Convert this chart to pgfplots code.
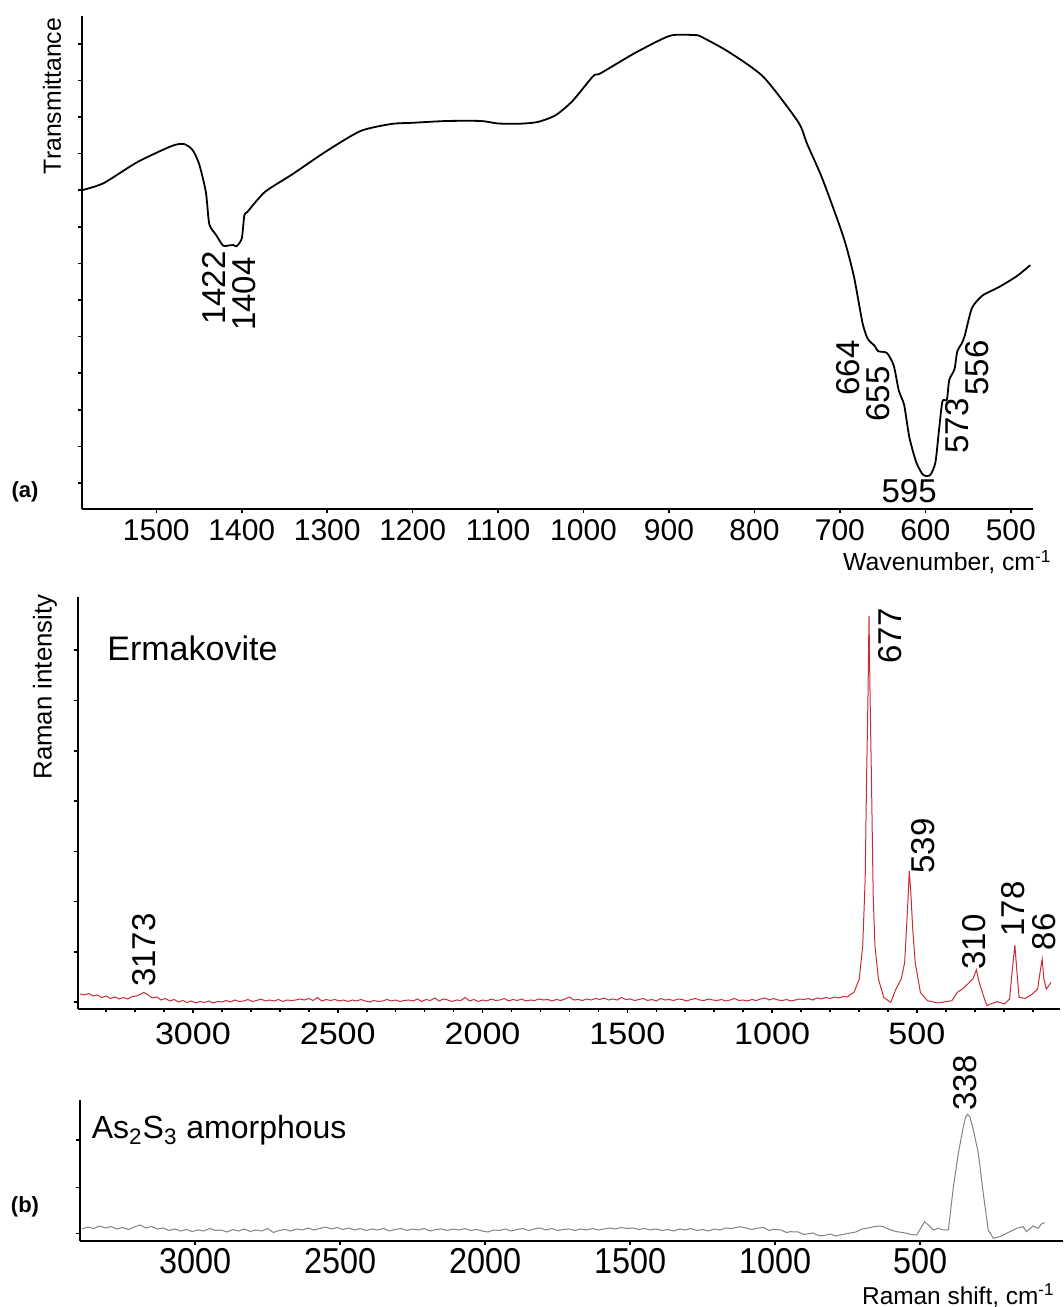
\documentclass[border=0pt]{standalone}
\usepackage{pgfplots}
\pgfplotsset{compat=1.18}
\usepackage{fontspec}
\setmainfont{Liberation Sans}
\newfontfamily\widefont[FakeStretch=1.1]{Liberation Sans}
\newfontfamily\narrowfont[FakeStretch=0.9]{Liberation Sans}
\definecolor{ramanred}{RGB}{200,45,55}
\definecolor{ramangray}{RGB}{130,130,130}

\pgfplotsset{
  spec/.style={
    scale only axis, clip=false,
    axis x line*=bottom, axis y line*=left,
    x dir=reverse,
    tick align=outside,
    major tick length=2pt, minor tick length=1.3pt,
    axis line style={line width=1.2pt},
    every tick/.style={black, line width=0.8pt},
    yticklabels={},
    /pgf/number format/1000 sep={},
    /pgf/number format/assume math mode=true,
  },
}
\tikzset{
  lbl/.style={rotate=90, anchor=east, inner sep=0pt, font=\fontsize{16.5}{16.5}\selectfont},
}

\begin{document}
\begin{tikzpicture}
\useasboundingbox (0,0) rectangle (532pt,653.5pt);

% (a) IR spectrum
\begin{axis}[spec,
  at={(41pt,399pt)}, anchor=south west,
  width=475.5pt, height=246.5pt,
  xmin=474, xmax=1587, ymin=0, ymax=493,
  xtick={500,600,...,1500},
  ytick={26,62.6,99.2,135.8,172.4,209,245.6,282.2,318.8,355.4,392,428.6,465.2},
  xticklabel style={font=\fontsize{15}{15}\selectfont, inner sep=0pt, yshift=-3pt},
]
\addplot[black, line width=0.9pt, smooth, tension=0.4] coordinates {
(1588,318.6) (1562,325.7) (1522,347) (1482,363) (1468,365) (1458,359.5) (1450,345.3)
(1442,316.8) (1438,284.8) (1430,274) (1422,263.4) (1416,263.4) (1410,264) (1406,262.7)
(1400,270.6) (1397,293.7) (1393.5,297) (1373,317) (1341,334.6) (1301,357.8) (1261,378)
(1225,385) (1200,386.2) (1160,388) (1120,388) (1100,385.5) (1074,385.3) (1053.7,387)
(1033,393.6) (1013,407.9) (988.6,433) (980.5,435.5) (939.8,456) (899,473.2) (870.7,473.9)
(862.6,472.4) (830,457) (789.4,432) (748.8,387) (738.6,365.6) (720.3,329.8) (696,272.4)
(683.7,233) (673.6,186.4) (667.5,170.3) (659.3,163.1) (655.3,157.8) (645,156) (637,143.4)
(631,118.3) (624.8,104) (618.7,71.7) (610.6,46.6) (602.4,34) (594.3,34) (588.2,46.6)
(584,79) (580,107.6) (574.8,109.4) (572,129) (565.9,139.8) (562.6,157.8) (557.7,165)
(553.7,173.9) (545.5,200.8) (533.3,213.3) (513,222.3) (492.7,233) (477.2,243.8)
};
\node[lbl] at (axis cs:1432,258) {1422};
\node[lbl] at (axis cs:1397,252) {1404};
\node[lbl] at (axis cs:690,169) {664};
\node[lbl] at (axis cs:655,143) {655};
\node[lbl] at (axis cs:563,111) {573};
\node[lbl] at (axis cs:539,169) {556};
\node[anchor=base, inner sep=0pt, font=\fontsize{16.5}{16.5}\selectfont] at (axis cs:619,6) {595};
\end{axis}

% (b) Raman, Ermakovite
\begin{axis}[spec,
  at={(39pt,149pt)}, anchor=south west,
  width=491pt, height=206pt,
  xmin=6, xmax=3397, ymin=0, ymax=412,
  xtick={500,1000,...,3000},
  minor xtick={100,200,...,3300},
  ytick={6.7,57,107.3,157.6,207.9,258.2,308.5,358.8},
  xticklabel style={font=\widefont\fontsize{15.5}{15.5}\selectfont, inner sep=0pt, yshift=-4.5pt},
]
\addplot[ramanred, line width=0.5pt] coordinates {
(3390,15) (3375,14) (3360,15.5) (3345,13) (3330,14) (3315,11.5) (3300,13) (3285,10.5)
(3270,12) (3255,10) (3240,11.5) (3225,10) (3210,12.5) (3195,13) (3180,15) (3170,16.5)
(3160,15) (3150,13) (3140,11) (3125,12) (3110,9) (3095,10.5) (3080,8) (3065,9.5)
(3050,7) (3035,8.5) (3020,6.5) (3005,8) (2990,6) (2975,7.5) (2960,6.5) (2945,8)
(2930,6) (2915,7.5) (2900,7) (2885,8.5) (2870,7) (2855,9) (2840,7.5) (2825,8)
(2810,9.5) (2795,7.5) (2780,8.5) (2765,10) (2750,8) (2735,9) (2720,8) (2705,9.5)
(2690,7.5) (2675,9) (2660,8.5) (2645,9) (2630,10) (2615,9) (2600,10.5) (2585,8.5)
(2570,11.5) (2555,8) (2540,9.5) (2525,8.5) (2510,9.5) (2495,8) (2480,9) (2465,7.5)
(2450,9) (2435,8) (2420,9.5) (2405,8) (2390,7) (2375,8.5) (2360,7.5) (2345,8)
(2330,9.5) (2315,8) (2300,9) (2285,7.5) (2270,8.5) (2255,9) (2240,8) (2225,10)
(2210,7.5) (2195,9.5) (2180,8.5) (2165,11) (2150,8) (2135,10) (2120,9) (2105,7.5)
(2090,9) (2075,8.5) (2060,11.5) (2045,8) (2030,9.5) (2015,7.5) (2000,9) (1985,8)
(1970,10) (1955,8.5) (1940,9) (1925,10.5) (1910,8) (1895,9.5) (1880,8.5) (1865,10)
(1850,8) (1835,9) (1820,8.5) (1805,10) (1790,9) (1775,9.5) (1760,8) (1745,9.5)
(1730,8.5) (1715,10) (1700,12) (1685,9) (1670,9.5) (1655,8.5) (1640,10) (1625,9)
(1610,10.5) (1595,9.5) (1580,11) (1565,9) (1550,10) (1535,9) (1520,11.5) (1505,9.5)
(1490,10) (1475,8.5) (1460,9.5) (1445,10.5) (1430,8.5) (1415,9.5) (1400,8) (1385,10.5)
(1370,9) (1355,9.5) (1340,8.5) (1325,10) (1310,9.5) (1295,8) (1280,9.5) (1265,10.5)
(1250,9) (1235,8.5) (1220,10) (1205,9) (1190,8.5) (1175,9.5) (1160,8) (1145,9)
(1130,10.5) (1115,8.5) (1100,9) (1085,8) (1070,9.5) (1055,8.5) (1040,10) (1025,11)
(1010,9) (995,10.5) (980,9) (965,8.5) (950,9.5) (935,8) (920,9) (905,10)
(890,9.5) (875,10.5) (860,9) (845,11) (830,10) (815,11.5) (800,10.5) (785,12)
(770,11) (755,12.5) (740,12) (730,14.5)
(717.4,16.6) (699.3,29.9) (687.2,63.2) (678.7,129.7) (673.9,229.5) (669,312.6)
(665.5,393.1) (661.8,312.6) (657,229.5) (651,113) (645,63.2) (632.9,29.9) (614.7,11.6)
(590.6,6.6) (572.5,19.9) (554.3,29.9) (542.3,46.6) (536.2,79.8) (530.2,113) (526.6,138)
(521.7,119.7) (514.5,79.8) (506,46.6) (488,16.6) (463.8,8.3) (427.5,6) (379.2,8.3)
(361,16.6) (343,19.9) (318.8,26.6) (306.8,29.9) (294.7,39.2) (285,26.6) (270.5,13.3)
(258.5,3.3) (246.4,5) (222.2,7.3) (198,5) (180,10) (171.5,36.6) (161.8,63.9) (154.6,36.6)
(147.3,11.6) (125.6,10.6) (101.4,15) (83.3,19.9) (74.9,36.6) (67.6,49.9) (61.6,29.9)
(53,19.9) (41,24.9) (37.4,26.6)
};
\node[lbl] at (axis cs:3167,96) {3173};
\node[lbl] at (axis cs:591,401) {677};
\node[lbl] at (axis cs:480,191) {539};
\node[lbl] at (axis cs:301,95) {310};
\node[lbl] at (axis cs:169,128) {178};
\node[lbl] at (axis cs:62,96) {86};
\end{axis}

% (b) Raman, amorphous As2S3
\begin{axis}[spec,
  at={(40pt,33pt)}, anchor=south west,
  width=491.5pt, height=70.5pt,
  xmin=7, xmax=3397, ymin=0, ymax=141,
  xtick={500,1000,...,3000},
  ytick={7.4,53.6,101.2},
  xticklabel style={font=\narrowfont\fontsize{18}{18}\selectfont, inner sep=0pt, yshift=-1.5pt},
]
\addplot[ramangray, line width=0.5pt] coordinates {
(3390,12) (3370,14) (3350,12.5) (3330,15) (3310,13) (3290,14.5) (3270,12) (3250,13.5)
(3230,11.5) (3210,14) (3190,16) (3170,13) (3150,14.5) (3130,12) (3110,13) (3090,10.5)
(3070,12) (3050,10) (3030,11.5) (3010,9.5) (2990,11) (2970,10) (2950,12.5) (2930,10.5)
(2910,11) (2890,9) (2870,11.5) (2850,10) (2830,12) (2810,9.5) (2790,11) (2770,10)
(2750,12.5) (2730,8.5) (2710,10.5) (2690,11.5) (2670,10) (2650,12) (2630,11) (2610,13)
(2590,11) (2570,12.5) (2550,14) (2530,12) (2510,13.5) (2490,11.5) (2470,13) (2450,11)
(2430,12.5) (2410,10.5) (2390,12) (2370,11) (2350,12.5) (2330,10) (2310,11.5) (2290,12.5)
(2270,10.5) (2250,12) (2230,11) (2210,12.5) (2190,10) (2170,11.5) (2150,12) (2130,10.5)
(2110,12) (2090,11) (2070,12.5) (2050,10.5) (2030,11.5) (2010,10) (1990,9) (1970,11)
(1950,10.5) (1930,12) (1910,10) (1890,11.5) (1870,12.5) (1850,10.5) (1830,12) (1810,13)
(1790,11) (1770,12.5) (1750,10.5) (1730,11.5) (1710,12) (1690,10.5) (1670,12) (1650,11)
(1630,12.5) (1610,11) (1590,12) (1570,13) (1550,12) (1530,13.5) (1510,12.5) (1490,13)
(1470,11.5) (1450,12.5) (1430,11) (1410,12) (1390,10.5) (1370,11.5) (1350,10) (1330,12)
(1310,11) (1290,12.5) (1270,10.5) (1250,11.5) (1230,10) (1210,12) (1190,11) (1170,13)
(1150,12.5) (1120,14.3) (1100,13) (1080,11.5) (1063,12.7) (1040,13.5) (1020,10.5)
(1005.7,11.7) (980,11) (960,8.5) (948,9.3) (920,9) (900,6.5) (890.8,7) (870,8) (850,5.5)
(833.3,5.3) (810,7) (790,5) (775.8,6) (750,7.5) (730,8.5) (718.4,9.3) (700,12)
(683.9,12.7) (670,13.5) (660.9,14.3) (640,15) (626.4,14.3) (610,12) (595,10.5)
(580.5,9.3) (560,8.5) (546,7.7) (530,6.5) (511.5,6) (494.3,14.3) (485,19.3) (471.3,16)
(454,11) (437,12.7) (419.5,11) (402.3,11) (385,54.3) (368,87.7) (353,111) (343,124)
(336,126.6) (328,124) (316,111) (299,87.7) (282,47.7) (265,11) (247,2.7) (224.7,4.3)
(201.7,7.7) (167,12.7) (144,14.3) (133,9.3) (110,15) (93,12.7) (81.6,17) (70,18.3)
};
\node[lbl] at (axis cs:345,186) {338};
\end{axis}

% texts
\node[rotate=90, inner sep=0pt, font=\fontsize{12.4}{12.4}\selectfont] at (26pt,605.5pt) {Transmittance};
\node[inner sep=0pt, font=\bfseries\fontsize{11}{11}\selectfont] at (12.5pt,407.5pt) {(a)};
\node[anchor=base east, inner sep=0pt, font=\fontsize{12.4}{12.4}\selectfont] at (526pt,368pt) {Wavenumber, cm\textsuperscript{-1}};
\node[rotate=90, inner sep=0pt, font=\fontsize{12.9}{12.9}\selectfont] at (22.5pt,310pt) {Raman intensity};
\node[anchor=base west, inner sep=0pt, font=\fontsize{17}{17}\selectfont] at (53.5pt,323pt) {Ermakovite};
\node[inner sep=0pt, font=\bfseries\fontsize{11}{11}\selectfont] at (12.5pt,50pt) {(b)};
\node[anchor=base west, inner sep=0pt, font=\fontsize{16}{16}\selectfont] at (45.75pt,84pt) {As\textsubscript{2}S\textsubscript{3} amorphous};
\node[anchor=base east, inner sep=0pt, font=\fontsize{12.2}{12.2}\selectfont] at (527.5pt,1.5pt) {Raman shift, cm\textsuperscript{-1}};
\end{tikzpicture}
\end{document}
